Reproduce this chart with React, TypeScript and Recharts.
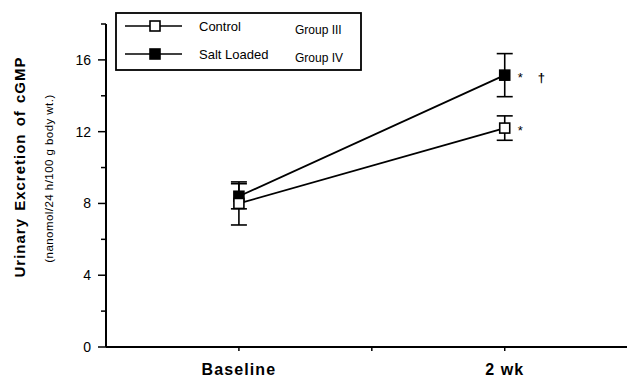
import { ComposedChart, Line, XAxis, YAxis, ErrorBar, Legend, LabelList } from "recharts";

const timePoints = [1, 3];
const timeLabels: Record<number, string> = { 1: "Baseline", 3: "2 wk" };
const controlValues = [8.0, 12.2];
const controlErr = [1.2, 0.68];
const saltValues = [8.4, 15.15];
const saltErr = [0.7, 1.2];
const controlMarks = ["", "*"];
const saltMarks = ["", "*"];
const saltDaggers = ["", "\u2020"];
const yTicks = [0, 2, 4, 6, 8, 10, 12, 14, 16, 18];

const data = timePoints.map((t, i) => ({
  t,
  control: controlValues[i],
  controlErr: controlErr[i],
  controlMark: controlMarks[i],
  salt: saltValues[i],
  saltErr: saltErr[i],
  saltMark: saltMarks[i],
  saltDagger: saltDaggers[i],
}));

const FONT = "'Liberation Sans', Arial, sans-serif";

const Square = (fill: string) => (props: any) => {
  const { cx, cy } = props;
  if (cx == null || cy == null) return null;
  return <rect x={cx - 5} y={cy - 5} width={10} height={10} fill={fill} stroke="#000" strokeWidth={1.6} />;
};

const YTick = (props: any) => {
  const { x, y, payload } = props;
  const v = payload.value;
  const axisX = x + 12;
  const major = v % 4 === 0;
  return (
    <g>
      <line x1={axisX - (major ? 8 : 5)} x2={axisX} y1={y} y2={y} stroke="#000" strokeWidth={1.5} />
      {major && v <= 16 && (
        <text x={axisX - 15} y={y} dy={5} textAnchor="end" fontSize={14} fontFamily={FONT} fill="#000">
          {v}
        </text>
      )}
    </g>
  );
};

const XTick = (props: any) => {
  const { x, payload } = props;
  const label = timeLabels[payload.value];
  return (
    <g>
      <line x1={x} x2={x} y1={347} y2={351} stroke="#000" strokeWidth={1.5} />
      {label && (
        <text x={x} y={375} textAnchor="middle" fontSize={16} fontWeight="bold" fontFamily={FONT} letterSpacing={1.1} fill="#000">
          {label}
        </text>
      )}
    </g>
  );
};

const markLabel = (dx: number, font: string, size: number, weight: string) => (props: any) => {
  const { x, y, value } = props;
  if (!value) return null;
  return (
    <text x={x + dx} y={y + 7} fontSize={size} fontFamily={font} fontWeight={weight} fill="#000">
      {value}
    </text>
  );
};

const LegendBox = () => {
  const rows = [
    { name: "Control", group: "Group III", fill: "#fff" },
    { name: "Salt Loaded", group: "Group IV", fill: "#000" },
  ];
  return (
    <svg width={247} height={59}>
      <rect x={1} y={1} width={245} height={57} fill="#fff" stroke="#000" strokeWidth={1.8} />
      {rows.map((r, i) => {
        const cy = 14 + i * 28;
        return (
          <g key={r.name}>
            <line x1={10} x2={67} y1={cy} y2={cy} stroke="#000" strokeWidth={1.6} />
            <rect x={35} y={cy - 5} width={10} height={10} fill={r.fill} stroke="#000" strokeWidth={1.6} />
            <text x={84} y={cy + 5} fontSize={13} fontFamily={FONT} fill="#000">{r.name}</text>
            <text x={180} y={cy + 8} fontSize={12} fontFamily={FONT} fill="#000">{r.group}</text>
          </g>
        );
      })}
    </svg>
  );
};

export default function App() {
  return (
    <div style={{ position: "absolute", left: 0, top: 0, width: 627, height: 378, background: "#fff" }}>
      <ComposedChart width={627} height={378} data={data} margin={{ top: 24, right: 0, bottom: 0, left: 0 }}>
        <XAxis
          type="number"
          dataKey="t"
          domain={[0, 3.92]}
          ticks={[1, 2, 3]}
          allowDataOverflow
          height={31}
          axisLine={{ stroke: "#000", strokeWidth: 2 }}
          tickLine={false}
          tick={<XTick />}
        />
        <YAxis
          type="number"
          domain={[0, 18]}
          ticks={yTicks}
          width={106}
          interval={0}
          axisLine={{ stroke: "#000", strokeWidth: 2 }}
          tickLine={false}
          tickSize={8}
          tickMargin={4}
          tick={<YTick />}
        />
        <Legend
          layout="vertical"
          align="center"
          verticalAlign="middle"
          content={<LegendBox />}
          wrapperStyle={{ position: "absolute", left: 115, top: 12, width: 247, height: 59 }}
        />
        <Line
          dataKey="salt"
          stroke="#000"
          strokeWidth={1.8}
          dot={Square("#000")}
          activeDot={false}
          isAnimationActive={false}
        >
          <ErrorBar dataKey="saltErr" direction="y" width={8} stroke="#000" strokeWidth={1.6} />
          <LabelList dataKey="saltMark" content={markLabel(13, FONT, 13, "normal")} />
          <LabelList dataKey="saltDagger" content={markLabel(33, FONT, 13, "bold")} />
        </Line>
        <Line
          dataKey="control"
          stroke="#000"
          strokeWidth={1.8}
          dot={Square("#fff")}
          activeDot={false}
          isAnimationActive={false}
        >
          <ErrorBar dataKey="controlErr" direction="y" width={8} stroke="#000" strokeWidth={1.6} />
          <LabelList dataKey="controlMark" content={markLabel(13, FONT, 13, "normal")} />
        </Line>
      </ComposedChart>
      <svg width={627} height={378} style={{ position: "absolute", left: 0, top: 0, pointerEvents: "none" }}>
        <text
          transform="translate(25, 167) rotate(-90)"
          textAnchor="middle"
          fontFamily={FONT}
          fontWeight="bold"
          fontSize={15}
          letterSpacing={1.0}
          wordSpacing={2}
          fill="#000"
        >
          Urinary Excretion of cGMP
        </text>
        <text
          transform="translate(53, 178.5) rotate(-90)"
          textAnchor="middle"
          fontFamily={FONT}
          fontSize={11.5}
          letterSpacing={0.45}
          fill="#000"
        >
          (nanomol/24 h/100 g body wt.)
        </text>
      </svg>
    </div>
  );
}
